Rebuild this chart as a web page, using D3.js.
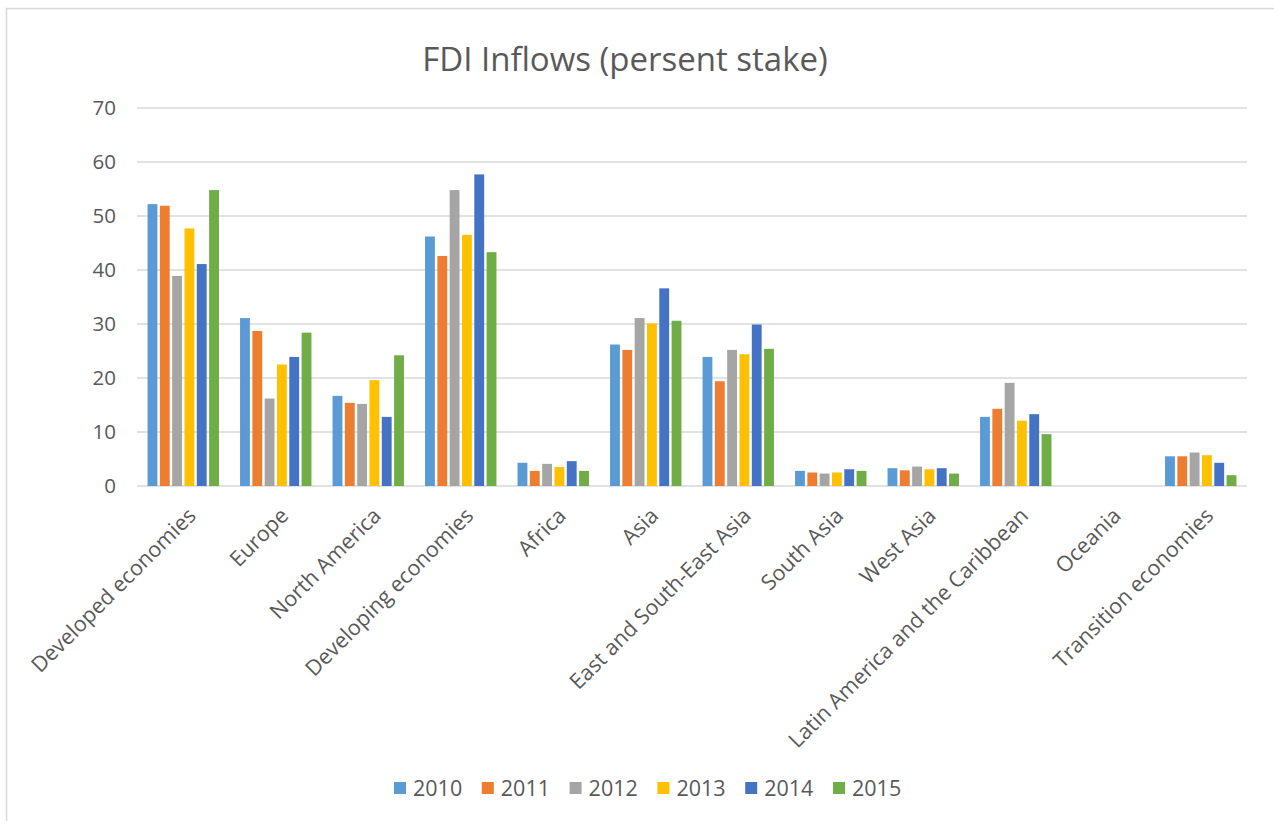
<!DOCTYPE html>
<html>
<head>
<meta charset="utf-8">
<script src="https://cdn.jsdelivr.net/npm/d3@7"></script>
<style>
  html, body { margin: 0; padding: 0; background: #fff; }
  svg { display: block; font-family: "Open Sans", sans-serif; }
</style>
</head>
<body>
<svg id="chart" width="1274" height="821"></svg>
<script>
const categories = ["Developed economies", "Europe", "North America", "Developing economies", "Africa", "Asia", "East and South-East Asia", "South Asia", "West Asia", "Latin America and the Caribbean", "Oceania", "Transition economies"];
const years = ["2010", "2011", "2012", "2013", "2014", "2015"];
const v2010 = [52.2, 31.1, 16.7, 46.2, 4.3, 26.2, 23.9, 2.8, 3.3, 12.8, 0, 5.5];
const v2011 = [51.9, 28.7, 15.4, 42.6, 2.8, 25.2, 19.4, 2.5, 2.9, 14.3, 0, 5.5];
const v2012 = [38.9, 16.2, 15.2, 54.8, 4.1, 31.1, 25.2, 2.3, 3.6, 19.1, 0, 6.2];
const v2013 = [47.7, 22.5, 19.6, 46.5, 3.5, 30.1, 24.4, 2.5, 3.1, 12.1, 0, 5.7];
const v2014 = [41.1, 23.9, 12.8, 57.7, 4.6, 36.6, 29.9, 3.1, 3.3, 13.3, 0, 4.3];
const v2015 = [54.8, 28.4, 24.2, 43.3, 2.8, 30.6, 25.4, 2.8, 2.3, 9.6, 0, 2.0];
const yTicks = [0, 10, 20, 30, 40, 50, 60, 70];
const colors = ["#5B9BD5", "#ED7D31", "#A5A5A5", "#FFC000", "#4472C4", "#70AD47"];
const title = "FDI Inflows (persent stake)";

const series = [v2010, v2011, v2012, v2013, v2014, v2015];
const textColor = "#595959";
const svg = d3.select("#chart");

// outer border
svg.append("rect").attr("x", 6.5).attr("y", 8.5).attr("width", 1400).attr("height", 1000)
  .attr("fill", "none").attr("stroke", "#d9d9d9").attr("stroke-width", 1.5);

const plot = { left: 137, right: 1247, top: 108, bottom: 486 };

const x0 = d3.scaleBand().domain(categories).range([plot.left, plot.right])
  .paddingInner(0.228).paddingOuter(0.114);
const x1 = d3.scaleBand().domain(years).range([0, x0.bandwidth()]).paddingInner(0.2);
const y = d3.scaleLinear().domain([0, 70]).range([plot.bottom, plot.top]);

// gridlines
svg.append("g").selectAll("line").data(yTicks).join("line")
  .attr("x1", plot.left).attr("x2", plot.right)
  .attr("y1", d => y(d)).attr("y2", d => y(d))
  .attr("stroke", "#d9d9d9").attr("stroke-width", 1.5);

// y axis labels
const yAxis = d3.axisLeft(y).tickValues(yTicks).tickSize(0).tickPadding(0);
const gy = svg.append("g").attr("transform", `translate(${plot.left - 21},0)`).call(yAxis);
gy.select(".domain").remove();
gy.selectAll("text").attr("fill", textColor).style("font-size", "20.5px")
  .style("font-family", "Open Sans, sans-serif");

// bars
const groups = svg.append("g").selectAll("g").data(categories).join("g")
  .attr("transform", d => `translate(${x0(d)},0)`);
groups.selectAll("rect").data((c, ci) => years.map((yr, si) => ({ yr, v: series[si][ci], si })))
  .join("rect")
  .attr("x", d => x1(d.yr))
  .attr("width", x1.bandwidth())
  .attr("y", d => y(d.v))
  .attr("height", d => y(0) - y(d.v))
  .attr("fill", d => colors[d.si]);

// x axis labels
const xAxis = d3.axisBottom(x0).tickSize(0).tickPadding(0);
const gx = svg.append("g").attr("transform", `translate(0,${plot.bottom})`).call(xAxis);
gx.select(".domain").remove();
gx.selectAll(".tick text")
  .attr("fill", textColor).style("font-size", "21.5px")
  .style("font-family", "Open Sans, sans-serif")
  .attr("text-anchor", "end")
  .attr("y", 0).attr("dy", "0.72em").attr("x", 0)
  .attr("transform", "translate(3,20) rotate(-45)");

// title
svg.append("text").attr("x", 625).attr("y", 71).attr("text-anchor", "middle")
  .attr("fill", textColor).style("font-size", "33px").text(title);

// legend
const legend = svg.append("g").selectAll("g").data(years).join("g")
  .attr("transform", (d, i) => `translate(${394 + i * 87.8}, 788)`);
legend.append("rect").attr("x", 0).attr("y", -6).attr("width", 12).attr("height", 12)
  .attr("fill", (d, i) => colors[i]);
legend.append("text").attr("x", 19).attr("y", 0).attr("dy", "0.35em")
  .attr("fill", textColor).style("font-size", "21.5px").text(d => d);
</script>
</body>
</html>
